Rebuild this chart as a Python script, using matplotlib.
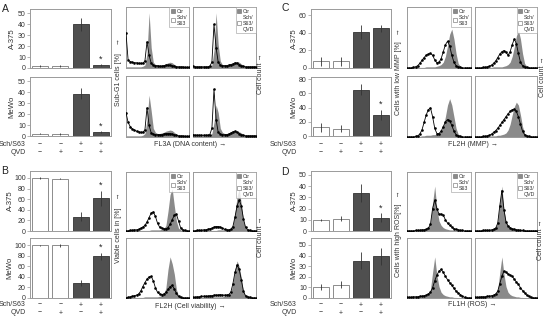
import numpy as np
import matplotlib
matplotlib.use("Agg")
import matplotlib.pyplot as plt
import matplotlib.transforms as mtransforms
from matplotlib.patches import Patch

plt.rcParams['font.family'] = ['Liberation Sans', 'DejaVu Sans']

# ---------------- data ----------------
sch_signs = ["−", "−", "+", "+"]
qvd_signs = ["−", "+", "−", "+"]

# bar data: (values, errors, star flags)
A_a375 = [2, 2, 40, 2.5];   A_a375_err = [1, 1, 6, 1]
A_mewo = [2, 2, 38.5, 3.5]; A_mewo_err = [0.5, 1, 5, 1]
B_a375 = [100, 98, 27, 62]; B_a375_err = [1.5, 1, 8, 14]
B_mewo = [100, 100, 29, 79]; B_mewo_err = [1.5, 3, 6, 7]
C_a375 = [7.5, 7.5, 40.5, 45]; C_a375_err = [5, 5, 8, 4]
C_mewo = [12, 10.5, 65, 30]; C_mewo_err = [6, 5, 8, 7]
D_a375 = [9.5, 11, 33.5, 12]; D_a375_err = [1, 2, 8, 4]
D_mewo = [10.5, 12.5, 35, 39.5]; D_mewo_err = [2.5, 3.5, 8, 8]

A_stars = [[0, 0, 0, 1], [0, 0, 0, 1]]
B_stars = [[0, 0, 0, 1], [0, 0, 0, 1]]
C_stars = [[0, 0, 0, 0], [0, 0, 0, 1]]
D_stars = [[0, 0, 0, 1], [0, 0, 0, 0]]

# histogram data (31 bins across the x range, relative counts)
A_ctr_1 = [0.02,0.02,0.02,0.02,0.02,0.02,0.02,0.02,0.03,0.05,0.25,0.95,0.35,0.10,0.06,0.05,0.05,0.05,0.06,0.07,0.09,0.10,0.09,0.06,0.04,0.03,0.02,0.02,0.02,0.02,0.02]
A_sch_1 = [0.60,0.14,0.11,0.10,0.09,0.09,0.08,0.08,0.08,0.12,0.45,0.22,0.08,0.05,0.04,0.04,0.03,0.03,0.04,0.05,0.05,0.05,0.04,0.03,0.02,0.02,0.02,0.02,0.01,0.01,0.01]
A_ctr_2 = [0.02,0.02,0.02,0.02,0.02,0.02,0.02,0.02,0.03,0.05,0.30,0.95,0.40,0.12,0.06,0.05,0.05,0.05,0.06,0.08,0.10,0.11,0.10,0.07,0.04,0.03,0.02,0.02,0.02,0.02,0.02]
A_qvd_2 = [0.03,0.02,0.02,0.02,0.02,0.02,0.02,0.02,0.03,0.10,0.75,0.35,0.10,0.05,0.04,0.04,0.04,0.05,0.06,0.07,0.09,0.08,0.06,0.04,0.03,0.02,0.02,0.02,0.02,0.02,0.02]
A_ctr_3 = [0.02,0.02,0.02,0.02,0.02,0.02,0.02,0.02,0.03,0.06,0.30,0.72,0.45,0.15,0.08,0.06,0.06,0.07,0.08,0.10,0.11,0.12,0.11,0.08,0.05,0.03,0.02,0.02,0.02,0.02,0.02]
A_sch_3 = [0.42,0.25,0.18,0.14,0.12,0.10,0.09,0.08,0.08,0.12,0.50,0.20,0.07,0.05,0.04,0.04,0.04,0.04,0.05,0.06,0.06,0.06,0.05,0.04,0.03,0.02,0.02,0.02,0.01,0.01,0.01]
A_ctr_4 = [0.02,0.02,0.02,0.02,0.02,0.02,0.02,0.02,0.03,0.06,0.25,0.55,0.42,0.15,0.08,0.06,0.06,0.07,0.08,0.09,0.10,0.10,0.09,0.07,0.04,0.03,0.02,0.02,0.02,0.02,0.02]
A_qvd_4 = [0.04,0.03,0.03,0.03,0.03,0.03,0.03,0.03,0.04,0.15,0.82,0.30,0.08,0.05,0.04,0.04,0.04,0.05,0.07,0.09,0.10,0.08,0.06,0.04,0.03,0.02,0.02,0.02,0.02,0.02,0.02]

B_ctr_1 = [0,0,0,0.01,0.01,0.01,0.01,0.01,0.01,0.01,0.01,0.01,0.02,0.02,0.02,0.02,0.02,0.03,0.04,0.10,0.35,0.65,0.75,0.45,0.18,0.05,0.02,0.01,0,0,0]
B_sch_1 = [0,0,0.01,0.01,0.02,0.02,0.03,0.05,0.07,0.10,0.16,0.24,0.32,0.34,0.26,0.14,0.07,0.05,0.04,0.04,0.06,0.12,0.20,0.28,0.30,0.18,0.06,0.02,0.01,0,0]
B_ctr_2 = [0,0,0,0.01,0.01,0.01,0.01,0.01,0.01,0.01,0.01,0.01,0.02,0.02,0.02,0.02,0.02,0.03,0.04,0.10,0.32,0.62,0.75,0.48,0.18,0.05,0.02,0.01,0,0,0]
B_qvd_2 = [0,0,0.01,0.01,0.01,0.02,0.02,0.03,0.04,0.05,0.07,0.08,0.08,0.07,0.05,0.03,0.02,0.02,0.03,0.08,0.25,0.45,0.55,0.45,0.22,0.07,0.02,0.01,0,0,0]
B_ctr_3 = [0,0,0,0.01,0.01,0.01,0.01,0.01,0.01,0.02,0.02,0.02,0.02,0.02,0.02,0.02,0.03,0.04,0.06,0.18,0.50,0.72,0.60,0.42,0.15,0.04,0.02,0.01,0,0,0]
B_sch_3 = [0,0.01,0.02,0.03,0.04,0.05,0.07,0.12,0.20,0.27,0.33,0.37,0.38,0.30,0.18,0.10,0.07,0.06,0.07,0.10,0.15,0.20,0.22,0.16,0.08,0.03,0.01,0,0,0,0]
B_ctr_4 = [0,0,0,0.01,0.01,0.01,0.02,0.02,0.02,0.02,0.02,0.02,0.02,0.02,0.02,0.03,0.03,0.05,0.10,0.25,0.50,0.65,0.55,0.35,0.12,0.04,0.02,0.01,0,0,0]
B_qvd_4 = [0.01,0.01,0.02,0.02,0.03,0.03,0.03,0.03,0.04,0.04,0.05,0.05,0.05,0.06,0.05,0.05,0.05,0.06,0.10,0.25,0.45,0.58,0.50,0.32,0.12,0.04,0.02,0.01,0,0,0]

C_ctr_1 = [0,0,0,0,0.01,0.01,0.01,0.01,0.01,0.02,0.02,0.02,0.02,0.02,0.03,0.04,0.06,0.10,0.20,0.38,0.58,0.67,0.50,0.25,0.08,0.03,0.01,0,0,0,0]
C_sch_1 = [0,0,0,0.01,0.02,0.04,0.08,0.13,0.18,0.22,0.24,0.25,0.22,0.14,0.09,0.10,0.16,0.28,0.40,0.46,0.38,0.22,0.10,0.04,0.02,0.01,0,0,0,0,0]
C_ctr_2 = [0,0,0,0,0.01,0.01,0.01,0.01,0.01,0.02,0.02,0.02,0.02,0.02,0.03,0.04,0.06,0.10,0.20,0.36,0.55,0.65,0.50,0.25,0.08,0.03,0.01,0,0,0,0]
C_qvd_2 = [0,0,0,0,0.01,0.01,0.02,0.03,0.05,0.08,0.12,0.18,0.24,0.28,0.30,0.27,0.22,0.28,0.40,0.50,0.42,0.25,0.10,0.04,0.02,0.01,0,0,0,0,0]
C_ctr_3 = [0,0,0,0,0.01,0.01,0.01,0.02,0.02,0.03,0.03,0.03,0.04,0.04,0.05,0.07,0.10,0.18,0.35,0.55,0.66,0.55,0.35,0.15,0.05,0.02,0.01,0,0,0,0]
C_sch_3 = [0,0,0,0,0.01,0.02,0.05,0.12,0.25,0.38,0.47,0.50,0.35,0.15,0.06,0.06,0.10,0.18,0.26,0.30,0.28,0.20,0.10,0.04,0.02,0.01,0,0,0,0,0]
C_ctr_4 = [0,0,0,0,0.01,0.01,0.01,0.01,0.02,0.02,0.02,0.03,0.03,0.04,0.05,0.07,0.12,0.22,0.38,0.52,0.60,0.55,0.38,0.18,0.06,0.02,0.01,0,0,0,0]
C_qvd_4 = [0,0,0,0,0.01,0.01,0.02,0.03,0.05,0.08,0.11,0.15,0.20,0.25,0.30,0.35,0.40,0.44,0.47,0.48,0.44,0.35,0.22,0.10,0.04,0.02,0.01,0,0,0,0]

D_ctr_1 = [0,0,0,0,0.01,0.01,0.01,0.01,0.02,0.03,0.06,0.15,0.50,0.80,0.40,0.18,0.10,0.06,0.04,0.03,0.02,0.02,0.01,0.01,0,0,0,0,0,0,0]
D_sch_1 = [0,0,0,0,0.01,0.01,0.01,0.02,0.02,0.03,0.05,0.12,0.40,0.55,0.40,0.30,0.30,0.28,0.20,0.14,0.10,0.07,0.04,0.03,0.02,0.01,0.01,0,0,0,0]
D_ctr_2 = [0,0,0,0,0.01,0.01,0.01,0.01,0.02,0.03,0.06,0.16,0.52,0.80,0.38,0.17,0.09,0.06,0.04,0.03,0.02,0.02,0.01,0.01,0,0,0,0,0,0,0]
D_qvd_2 = [0,0,0,0,0.01,0.01,0.01,0.01,0.02,0.03,0.05,0.14,0.45,0.72,0.38,0.16,0.09,0.06,0.04,0.03,0.02,0.02,0.01,0.01,0,0,0,0,0,0,0]
D_ctr_3 = [0,0,0,0.01,0.01,0.01,0.01,0.02,0.02,0.03,0.06,0.15,0.45,0.72,0.40,0.20,0.10,0.06,0.04,0.03,0.02,0.02,0.01,0.01,0,0,0,0,0,0,0]
D_sch_3 = [0.01,0.01,0.01,0.02,0.02,0.02,0.03,0.03,0.04,0.05,0.07,0.10,0.18,0.30,0.40,0.47,0.50,0.45,0.38,0.32,0.27,0.22,0.17,0.12,0.09,0.06,0.03,0.01,0,0,0]
D_ctr_4 = [0,0,0,0.01,0.01,0.01,0.01,0.02,0.02,0.03,0.06,0.15,0.45,0.72,0.42,0.20,0.10,0.06,0.04,0.03,0.02,0.02,0.01,0.01,0,0,0,0,0,0,0]
D_qvd_4 = [0.01,0.01,0.01,0.02,0.02,0.02,0.03,0.03,0.04,0.05,0.07,0.12,0.25,0.38,0.47,0.45,0.42,0.40,0.38,0.33,0.28,0.24,0.18,0.13,0.09,0.05,0.03,0.01,0,0,0]

# ---------------- layout helpers ----------------
W, H = 550, 321
fig = plt.figure(figsize=(W / 100, H / 100), dpi=100)

SPINE = '#9a9a9a'
DARK = '#4f4f4f'
TXT = '#333333'
GRAY_FILL = '#8a8a8a'
FS = 5.0


def add_ax(x0, y0, x1, y1):
    return fig.add_axes([x0 / W, 1 - y1 / H, (x1 - x0) / W, (y1 - y0) / H])


def ftext(x, y, s, **kw):
    kw.setdefault('fontsize', FS)
    kw.setdefault('color', TXT)
    fig.text(x / W, 1 - y / H, s, **kw)


def bar_panel(box, vals, errs, stars, ymax, yticks, rowlabel, label_x):
    ax = add_ax(*box)
    xs = np.arange(len(vals))
    fcs = ['white', 'white', DARK, DARK]
    ecs = ['#7a7a7a', '#7a7a7a', '#333333', '#333333']
    ax.bar(xs, vals, width=0.78, color=fcs, edgecolor=ecs, linewidth=0.6, zorder=2)
    ax.errorbar(xs, vals, yerr=errs, fmt='none', ecolor='#333333', elinewidth=0.6,
                capsize=0, zorder=3)
    for i, s in enumerate(stars):
        if s:
            ax.annotate('*', (xs[i], vals[i] + errs[i]), xytext=(0, 0.5),
                        textcoords='offset points', ha='center', va='bottom',
                        fontsize=6.5, color='#222222')
    ax.set_xlim(-0.5, 3.5)
    ax.set_ylim(0, ymax)
    ax.set_yticks(yticks)
    ax.set_xticks([])
    ax.tick_params(axis='y', labelsize=FS, length=2, width=0.5, pad=1,
                   colors=SPINE, labelcolor=TXT)
    for sp in ax.spines.values():
        sp.set_color(SPINE)
        sp.set_linewidth(0.7)
    ftext(label_x, (box[1] + box[3]) / 2, rowlabel, rotation=90, ha='center',
          va='center', fontsize=FS + 0.6)
    return ax


def sign_rows(ax, y1, y2, lab_x):
    tr = mtransforms.blended_transform_factory(ax.transData, fig.transFigure)
    for i in range(4):
        ax.text(i, 1 - y1 / H, sch_signs[i], transform=tr, ha='center', va='center',
                fontsize=FS, color=TXT)
        ax.text(i, 1 - y2 / H, qvd_signs[i], transform=tr, ha='center', va='center',
                fontsize=FS, color=TXT)
    ftext(lab_x, y1, 'Sch/S63', ha='right', va='center')
    ftext(lab_x, y2, 'QVD', ha='right', va='center')


xbins = np.linspace(0, 1, 31)


def hist_panel(box, ctr, trt, legend_label=None):
    ax = add_ax(*box)
    ax.fill_between(xbins, 0, ctr, color=GRAY_FILL, lw=0, zorder=2)
    ax.plot(xbins, trt, color='black', lw=0.6, marker='s', ms=0.8, zorder=3)
    ax.set_xlim(0, 1)
    ax.set_ylim(0, 1.05)
    ax.set_xticks([])
    ax.set_yticks([])
    for sp in ax.spines.values():
        sp.set_color(SPINE)
        sp.set_linewidth(0.7)
    if legend_label is not None:
        handles = [Patch(facecolor=GRAY_FILL, edgecolor='#666666', lw=0.4, label='Ctr'),
                   Patch(facecolor='white', edgecolor='#666666', lw=0.4, label=legend_label)]
        leg = ax.legend(handles=handles, loc='upper right', fontsize=3.8,
                        frameon=True, fancybox=False, borderaxespad=0,
                        handlelength=0.8, handleheight=0.8, handletextpad=0.3,
                        labelspacing=0.25, borderpad=0.3)
        leg.get_frame().set_edgecolor(SPINE)
        leg.get_frame().set_linewidth(0.5)
        for t in leg.get_texts():
            t.set_color(TXT)
    return ax


# ---------------- panel A ----------------
ftext(5, 9, 'A', fontsize=7.5, ha='center', va='center', color='#222222')
axA1 = bar_panel((30, 9, 111, 68), A_a375, A_a375_err, A_stars[0], 54, range(0, 51, 10), 'A-375', 12)
axA2 = bar_panel((30, 77, 111, 136), A_mewo, A_mewo_err, A_stars[1], 54, range(0, 51, 10), 'MeWo', 12)
sign_rows(axA2, 144, 152, 26)
hist_panel((126, 7, 189, 68), A_ctr_1, A_sch_1, 'Sch/\nS63')
hist_panel((193, 7, 256, 68), A_ctr_2, A_qvd_2, 'Sch/\nS63/\nQVD')
hist_panel((126, 76, 189, 137), A_ctr_3, A_sch_3)
hist_panel((193, 76, 256, 137), A_ctr_4, A_qvd_4)
ftext(118, 72, 'Sub-G1 cells [%]    →', rotation=90, ha='center', va='center')
ftext(260, 74, 'Cell count →', rotation=90, ha='center', va='center')
ftext(190, 144, 'FL3A (DNA content) →', ha='center', va='center')

# ---------------- panel B ----------------
ftext(5, 171, 'B', fontsize=7.5, ha='center', va='center', color='#222222')
axB1 = bar_panel((30, 171, 111, 231), B_a375, B_a375_err, B_stars[0], 113, range(0, 101, 20), 'A-375', 10)
axB2 = bar_panel((30, 238, 111, 298), B_mewo, B_mewo_err, B_stars[1], 114, range(0, 101, 20), 'MeWo', 10)
sign_rows(axB2, 305, 313, 26)
hist_panel((126, 172, 189, 231), B_ctr_1, B_sch_1, 'Sch/\nS63')
hist_panel((193, 172, 256, 231), B_ctr_2, B_qvd_2, 'Sch/\nS63/\nQVD')
hist_panel((126, 238, 189, 298), B_ctr_3, B_sch_3)
hist_panel((193, 238, 256, 298), B_ctr_4, B_qvd_4)
ftext(118, 228, 'Viable cells in [%]    →', rotation=90, ha='center', va='center')
ftext(260, 237, 'Cell count →', rotation=90, ha='center', va='center')
ftext(190, 307, 'FL2H (Cell viability) →', ha='center', va='center')

# ---------------- panel C ----------------
ftext(285, 8, 'C', fontsize=7.5, ha='center', va='center', color='#222222')
axC1 = bar_panel((311, 9, 391, 68), C_a375, C_a375_err, C_stars[0], 67, range(0, 61, 20), 'A-375', 294)
axC2 = bar_panel((311, 77, 391, 136), C_mewo, C_mewo_err, C_stars[1], 83, range(0, 81, 20), 'MeWo', 294)
sign_rows(axC2, 145, 153, 297)
hist_panel((407, 7, 471, 68), C_ctr_1, C_sch_1, 'Sch/\nS63')
hist_panel((475, 7, 537, 68), C_ctr_2, C_qvd_2, 'Sch/\nS63/\nQVD')
hist_panel((407, 76, 471, 137), C_ctr_3, C_sch_3)
hist_panel((475, 76, 537, 137), C_ctr_4, C_qvd_4)
ftext(398, 72, 'Cells with low MMP [%]   →', rotation=90, ha='center', va='center')
ftext(542, 77, 'Cell count →', rotation=90, ha='center', va='center')
ftext(473, 144, 'FL2H (MMP) →', ha='center', va='center')

# ---------------- panel D ----------------
ftext(285, 172, 'D', fontsize=7.5, ha='center', va='center', color='#222222')
axD1 = bar_panel((311, 171, 391, 231), D_a375, D_a375_err, D_stars[0], 53.5, range(0, 51, 10), 'A-375', 294)
axD2 = bar_panel((311, 238, 391, 298), D_mewo, D_mewo_err, D_stars[1], 56.5, range(0, 51, 10), 'MeWo', 294)
sign_rows(axD2, 305, 313, 297)
hist_panel((407, 172, 471, 231), D_ctr_1, D_sch_1, 'Sch/\nS63')
hist_panel((475, 172, 537, 231), D_ctr_2, D_qvd_2, 'Sch/\nS63/\nQVD')
hist_panel((407, 238, 471, 298), D_ctr_3, D_sch_3)
hist_panel((475, 238, 537, 298), D_ctr_4, D_qvd_4)
ftext(398, 234, 'Cells with high ROS[%]   →', rotation=90, ha='center', va='center')
ftext(541, 240, 'Cell count →', rotation=90, ha='center', va='center')
ftext(472, 305, 'FL1H (ROS) →', ha='center', va='center')

fig.savefig('out.png', dpi=100, facecolor='white')
